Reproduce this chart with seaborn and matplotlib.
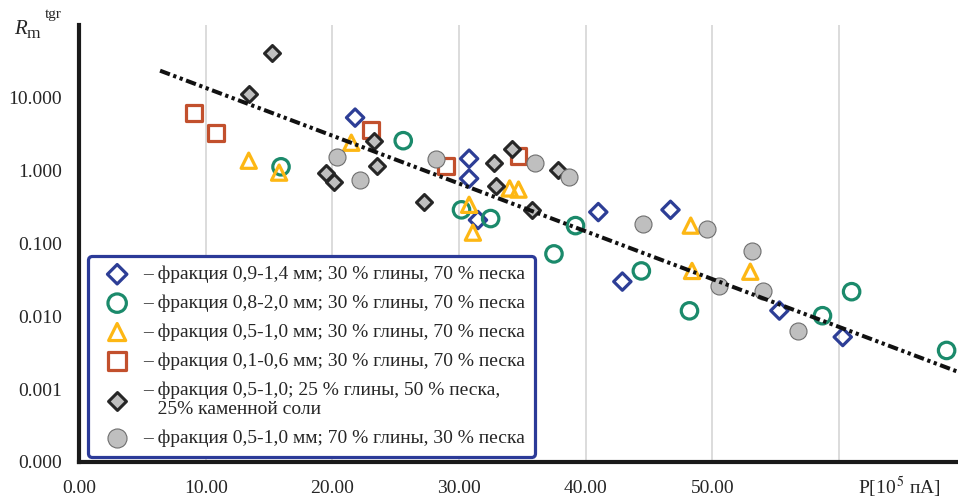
import matplotlib
matplotlib.use("Agg")
import matplotlib.pyplot as plt
import seaborn as sns
import pandas as pd

# ---------------- data ----------------
blue_x = [21.8, 30.8, 30.8, 31.5, 41.0, 46.7, 42.9, 55.3, 60.3]
blue_y = [5.35, 1.46, 0.78, 0.21, 0.27, 0.29, 0.030, 0.012, 0.0052]

green_x = [15.95, 25.6, 30.2, 32.5, 37.5, 39.2, 44.4, 48.2, 58.7, 61.0, 68.5]
green_y = [1.13, 2.58, 0.29, 0.22, 0.072, 0.176, 0.042, 0.0119, 0.0102, 0.0218, 0.0034]

yellow_x = [13.4, 15.8, 21.5, 30.8, 31.1, 34.0, 34.7, 48.3, 48.4, 53.0]
yellow_y = [1.37, 0.94, 2.42, 0.34, 0.141, 0.57, 0.55, 0.176, 0.042, 0.041]

red_x = [9.1, 10.8, 23.05, 29.0, 34.7]
red_y = [6.26, 3.33, 3.66, 1.17, 1.61]

gdiam_x = [15.2, 13.4, 19.5, 20.1, 23.3, 23.5, 27.2, 32.8, 32.9, 34.2, 35.8, 37.8]
gdiam_y = [41.8, 11.4, 0.94, 0.71, 2.58, 1.17, 0.375, 1.29, 0.62, 2.0, 0.29, 1.03]

gcirc_x = [20.4, 22.2, 28.2, 36.0, 38.7, 44.5, 49.6, 50.5, 53.1, 54.0, 56.8]
gcirc_y = [1.56, 0.75, 1.46, 1.29, 0.83, 0.187, 0.16, 0.026, 0.080, 0.0225, 0.0062]

trend_x = [6.4, 69.4]
trend_y = [23.6, 0.00173]

labels = [
    "– фракция 0,9-1,4 мм; 30 % глины, 70 % песка",
    "– фракция 0,8-2,0 мм; 30 % глины, 70 % песка",
    "– фракция 0,5-1,0 мм; 30 % глины, 70 % песка",
    "– фракция 0,1-0,6 мм; 30 % глины, 70 % песка",
    "– фракция 0,5-1,0; 25 % глины, 50 % песка,\n   25% каменной соли",
    "– фракция 0,5-1,0 мм; 70 % глины, 30 % песка",
]

x_ticks = [0, 10, 20, 30, 40, 50, 60]
x_ticklabels = ["0.00", "10.00", "20.00", "30.00", "40.00", "50.00", ""]
y_ticks = [1e-4, 1e-3, 1e-2, 1e-1, 1e0, 1e1]
y_ticklabels = ["0.000", "0.001", "0.010", "0.100", "1.000", "10.000"]

# ---------------- style ----------------
sns.set_style("white")
plt.rcParams["font.family"] = ["Liberation Serif", "DejaVu Serif"]
plt.rcParams["mathtext.fontset"] = "stix"

BLUE = "#2D3E96"
GREEN = "#1B8A6B"
YELLOW = "#FDB714"
RED = "#C2502D"
GRAYF = "#BFBFBF"
DARK = "#262626"

fig = plt.figure(figsize=(9.58, 5.03), dpi=100)
ax = fig.add_axes([79 / 958, 41 / 503, 879 / 958, 437 / 503])

series = [
    (blue_x, blue_y, "D", 78, "none", BLUE, 2.3, labels[0]),
    (green_x, green_y, "o", 140, "none", GREEN, 2.3, labels[1]),
    (yellow_x, yellow_y, "^", 120, "none", YELLOW, 2.3, labels[2]),
    (red_x, red_y, "s", 130, "none", RED, 2.3, labels[3]),
    (gdiam_x, gdiam_y, "D", 66, GRAYF, DARK, 2.2, labels[4]),
    (gcirc_x, gcirc_y, "o", 150, GRAYF, "#6E6E6E", 0.8, labels[5]),
]

for xs, ys, mk, s, fc, ec, lw, lab in series:
    df = pd.DataFrame({"x": xs, "y": ys})
    sns.scatterplot(data=df, x="x", y="y", ax=ax, marker=mk, s=s,
                    color=ec, facecolors=fc, edgecolor=ec, linewidth=lw,
                    label=lab, zorder=3, clip_on=False)

tdf = pd.DataFrame({"x": trend_x, "y": trend_y})
sns.lineplot(data=tdf, x="x", y="y", ax=ax, color="#111111", linewidth=2.9,
             zorder=4, legend=False)
ax.lines[-1].set_dashes((2.6, 0.9, 0.8, 0.9, 0.8, 0.9))
ax.lines[-1].set_dash_capstyle("butt")

ax.set_yscale("log")
ax.set_xlim(0, 69.4)
ax.set_ylim(1e-4, 100)
ax.set_xticks(x_ticks)
ax.set_xticklabels(x_ticklabels, fontsize=14)
ax.set_yticks(y_ticks)
ax.set_yticklabels(y_ticklabels, fontsize=14)
ax.minorticks_off()
ax.tick_params(axis="both", length=0)
ax.tick_params(axis="y", pad=12)
ax.tick_params(axis="x", pad=13)
ax.set_xlabel("")
ax.set_ylabel("")

ax.grid(False)
ax.xaxis.grid(True, color="#D9D9D9", linewidth=1.3)
ax.set_axisbelow(True)

for side in ["top", "right"]:
    ax.spines[side].set_visible(False)
for side in ["left", "bottom"]:
    ax.spines[side].set_linewidth(3.0)
    ax.spines[side].set_color("#1A1A1A")
    ax.spines[side].set_zorder(5)

# legend
leg = ax.legend(loc="lower left", bbox_to_anchor=(9 / 879, 5 / 437),
                borderaxespad=0, fontsize=14, frameon=True, fancybox=True,
                handlelength=2.0, handletextpad=0.33, borderpad=0.5,
                labelspacing=0.58, scatterpoints=1, markerscale=1.12)
frame = leg.get_frame()
frame.set_edgecolor("#2B3A98")
frame.set_linewidth(2.3)
frame.set_facecolor("white")
frame.set_alpha(1)
leg.set_zorder(6)

# axis titles
fig.text(14 / 958, 1 - 34 / 503, "R", fontsize=15, style="italic",
         va="baseline", ha="left")
fig.text(27 / 958, 1 - 38 / 503, "m", fontsize=12.5, va="baseline", ha="left")
fig.text(45 / 958, 1 - 18 / 503, "tgr", fontsize=11, va="baseline", ha="left")
fig.text(858 / 958, 1 - 494 / 503, "P[10$^{\\,5}$ пА]", fontsize=14,
         va="baseline", ha="left")

fig.savefig("out.png", dpi=100)
